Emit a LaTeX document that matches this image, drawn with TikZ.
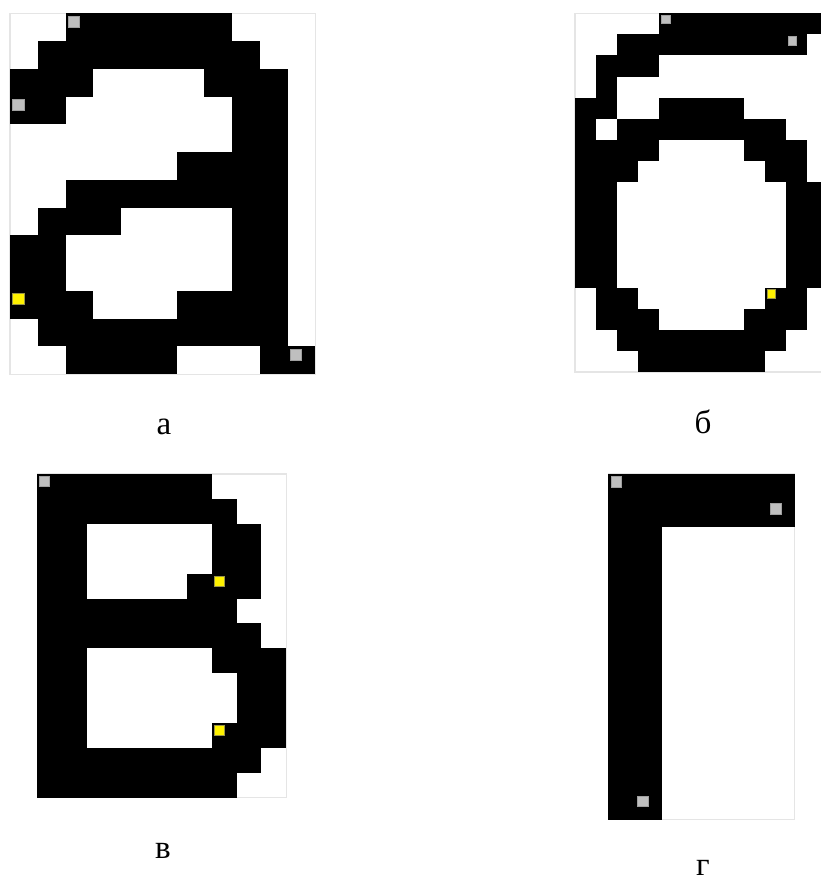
\documentclass[tikz,border=0pt]{standalone}
\usepackage{fontspec}
\setmainfont{Liberation Serif}
\tikzset{
  pix/.style={fill=black},
  gmark/.style={fill=gray!50,draw=gray!75,line width=0.2pt},
  ymark/.style={fill=yellow,draw=yellow!55!black,line width=0.2pt},
  frame/.style={draw=gray!20,line width=0.3pt},
  letter/.style={font=\fontsize{9.4}{11}\selectfont,anchor=base,inner sep=0pt}
}
\newcommand{\blk}[3]{\fill[pix] (#1,#3) rectangle (#2+1,#3+1);}
\newcommand{\mrk}[3]{\filldraw[#1] (#2+0.1,#3+0.1) rectangle (#2+0.5,#3+0.5);}

\begin{document}
\begin{tikzpicture}[x=0.01cm,y=-0.01cm]
\useasboundingbox (0,0) rectangle (820,880);
% letter a
\begin{scope}[shift={(10,13.3)},scale=27.75]
\draw[frame] (0,0) rectangle (11,13);
\foreach \ca/\cb/\rr in {2/7/0,1/8/1,0/2/2,7/9/2,0/1/3,8/9/3,8/9/4,6/9/5,2/9/6,1/3/7,8/9/7,
  0/1/8,8/9/8,0/1/9,8/9/9,0/2/10,6/9/10,1/9/11,2/5/12,9/10/12}
  {\blk{\ca}{\cb}{\rr}}
\mrk{gmark}{2}{0} \mrk{gmark}{0}{3} \mrk{ymark}{0}{10} \mrk{gmark}{10}{12}
\end{scope}
% letter b
\begin{scope}[shift={(575,13.3)},scale=21.1]
\draw[frame] (0,0) rectangle (12,17);
\foreach \ca/\cb/\rr in {4/11/0,2/10/1,1/3/2,1/1/3,0/1/4,4/7/4,0/0/5,2/9/5,0/3/6,8/10/6,
  0/2/7,9/10/7,0/1/8,10/11/8,0/1/9,10/11/9,0/1/10,10/11/10,0/1/11,10/11/11,0/1/12,10/11/12,
  1/2/13,9/10/13,1/3/14,8/10/14,2/9/15,3/8/16}
  {\blk{\ca}{\cb}{\rr}}
\mrk{gmark}{4}{0} \mrk{gmark}{10}{1} \mrk{ymark}{9}{13}
\end{scope}
% letter v
\begin{scope}[shift={(37.3,474)},scale=24.9]
\draw[frame] (0,0) rectangle (10,13);
\foreach \ca/\cb/\rr in {0/6/0,0/7/1,0/1/2,7/8/2,0/1/3,7/8/3,0/1/4,6/8/4,0/7/5,0/8/6,
  0/1/7,7/9/7,0/1/8,8/9/8,0/1/9,8/9/9,0/1/10,7/9/10,0/8/11,0/7/12}
  {\blk{\ca}{\cb}{\rr}}
\mrk{gmark}{0}{0} \mrk{ymark}{7}{4} \mrk{ymark}{7}{10}
\end{scope}
% letter g
\begin{scope}[shift={(608.3,474)},scale=26.6]
\draw[frame] (0,0) rectangle (7,13);
\foreach \rr in {2,...,12} {\blk{0}{1}{\rr}}
\blk{0}{6}{0} \blk{0}{6}{1}
\mrk{gmark}{0}{0} \mrk{gmark}{6}{1} \mrk{gmark}{1}{12}
\end{scope}
% captions
\node[letter] (capa) at (164,435) {а};
\node[letter] (capb) at (703,433) {б};
\node[letter] (capv) at (163,858) {в};
\node[letter] (capg) at (703,875) {г};
\end{tikzpicture}
\end{document}
